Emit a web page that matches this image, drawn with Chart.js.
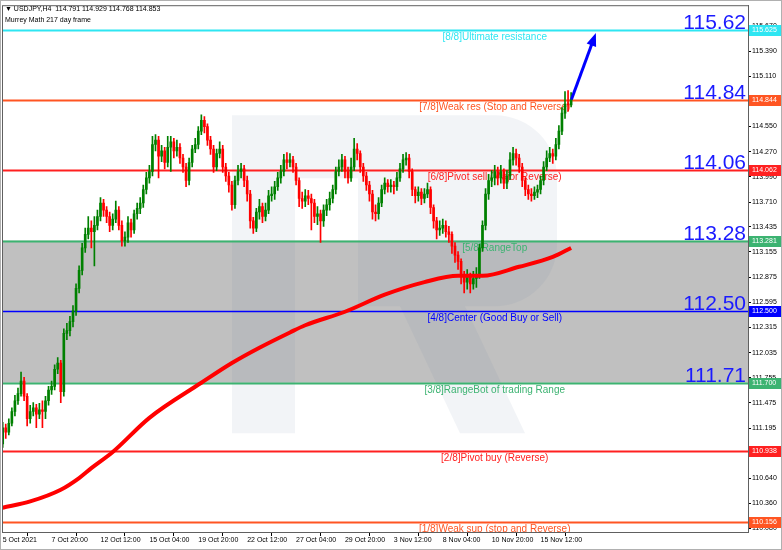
<!DOCTYPE html>
<html>
<head>
<meta charset="utf-8">
<script src="https://cdn.jsdelivr.net/npm/chart.js@4.4.1/dist/chart.umd.min.js"></script>
<style>
  html, body { margin: 0; padding: 0; background: #fff; }
  canvas { display: block; }
</style>
</head>
<body>
<canvas id="mycanvas" width="782" height="550"></canvas>
<script>
// USDJPY H4 bars (one value per candle)
var closes = [
  111.20,111.15,111.25,111.38,111.50,111.58,111.72,111.55,111.30,111.38,
  111.42,111.35,111.40,111.38,111.50,111.62,111.66,111.85,111.92,111.60,
  112.25,112.28,112.38,112.50,112.75,112.95,113.20,113.35,113.42,113.38,
  113.45,113.55,113.70,113.62,113.55,113.45,113.52,113.62,113.45,113.28,
  113.32,113.48,113.40,113.58,113.64,113.70,113.85,113.98,114.05,114.35,
  114.40,114.22,114.28,114.15,114.32,114.38,114.28,114.32,114.20,114.10,
  113.95,114.15,114.30,114.35,114.50,114.62,114.55,114.40,114.30,114.10,
  114.25,114.30,114.10,114.00,113.90,113.68,113.95,114.05,114.08,113.95,
  113.80,113.50,113.42,113.60,113.66,113.55,113.62,113.78,113.80,113.88,
  113.98,114.05,114.18,114.15,114.18,114.10,113.95,113.75,113.72,113.78,
  113.75,113.70,113.55,113.58,113.50,113.62,113.68,113.75,113.85,114.05,
  114.10,114.18,114.05,113.98,114.10,114.30,114.25,114.10,114.00,113.90,
  113.80,113.60,113.58,113.70,113.85,113.92,113.88,113.90,113.88,113.98,
  114.08,114.18,114.20,114.05,113.85,113.78,113.82,113.75,113.80,113.85,
  113.65,113.50,113.40,113.42,113.45,113.38,113.35,113.22,113.12,113.05,
  112.90,112.82,112.88,112.80,112.86,112.90,113.20,113.45,113.80,113.95,
  113.98,114.05,113.98,114.05,113.92,114.00,114.18,114.25,114.20,114.10,
  113.95,113.85,113.80,113.78,113.82,113.85,113.95,114.10,114.20,114.25,
  114.22,114.35,114.50,114.70,114.80,114.791,114.853
];
var highs = [
  111.26,111.24,111.30,111.42,111.56,111.64,111.82,111.76,111.58,111.45,
  111.48,111.46,111.47,111.50,111.55,111.66,111.72,111.90,111.98,111.95,
  112.30,112.36,112.44,112.56,112.80,113.00,113.25,113.42,113.55,113.50,
  113.55,113.62,113.76,113.74,113.66,113.60,113.58,113.72,113.66,113.50,
  113.38,113.55,113.52,113.62,113.70,113.76,113.90,114.04,114.12,114.44,
  114.46,114.44,114.34,114.32,114.44,114.44,114.42,114.40,114.36,114.24,
  114.14,114.20,114.34,114.42,114.55,114.68,114.66,114.58,114.44,114.34,
  114.30,114.38,114.34,114.14,114.04,113.94,114.00,114.12,114.14,114.12,
  114.00,113.84,113.54,113.64,113.74,113.70,113.70,113.84,113.88,113.94,
  114.04,114.12,114.24,114.26,114.25,114.22,114.14,113.98,113.82,113.85,
  113.84,113.80,113.74,113.66,113.62,113.68,113.74,113.82,113.90,114.10,
  114.18,114.24,114.22,114.10,114.20,114.42,114.36,114.28,114.14,114.04,
  113.94,113.84,113.68,113.76,113.90,113.98,113.96,113.96,113.94,114.04,
  114.14,114.24,114.26,114.24,114.08,113.88,113.88,113.86,113.86,113.92,
  113.88,113.68,113.54,113.50,113.52,113.50,113.44,113.38,113.26,113.16,
  113.08,112.94,112.96,112.92,112.94,112.98,113.24,113.50,113.86,114.02,
  114.06,114.12,114.10,114.12,114.08,114.06,114.26,114.32,114.30,114.24,
  114.14,113.98,113.90,113.86,113.88,113.90,114.00,114.16,114.28,114.32,
  114.30,114.42,114.56,114.76,114.94,114.95,114.929
];
var lows = [
  110.98,111.08,111.12,111.22,111.33,111.46,111.55,111.50,111.22,111.25,
  111.33,111.20,111.30,111.20,111.30,111.45,111.57,111.62,111.80,111.48,
  111.55,112.18,112.22,112.32,112.45,112.70,112.90,113.15,113.30,113.20,
  113.00,113.40,113.50,113.55,113.48,113.38,113.40,113.48,113.40,113.22,
  113.22,113.26,113.32,113.36,113.52,113.58,113.65,113.80,113.92,114.00,
  114.28,113.98,114.16,114.08,114.10,114.05,114.20,114.22,114.14,114.04,
  113.88,113.90,114.10,114.26,114.30,114.46,114.48,114.34,114.24,114.04,
  114.06,114.20,114.04,113.94,113.82,113.62,113.64,113.90,113.98,113.88,
  113.72,113.42,113.36,113.38,113.52,113.48,113.50,113.58,113.72,113.74,
  113.84,113.92,114.00,114.08,114.10,114.04,113.90,113.66,113.64,113.66,
  113.68,113.40,113.48,113.46,113.26,113.44,113.56,113.62,113.70,113.80,
  114.00,114.05,113.98,113.92,113.94,114.06,114.18,114.04,113.94,113.84,
  113.72,113.52,113.50,113.52,113.66,113.80,113.82,113.82,113.80,113.84,
  113.94,114.04,114.12,113.98,113.78,113.70,113.72,113.68,113.70,113.76,
  113.58,113.42,113.30,113.34,113.36,113.32,113.26,113.14,113.04,112.96,
  112.80,112.70,112.74,112.70,112.74,112.76,112.86,113.16,113.40,113.74,
  113.88,113.90,113.90,113.92,113.86,113.86,113.96,114.12,114.12,114.04,
  113.88,113.78,113.74,113.72,113.74,113.76,113.80,113.90,114.06,114.16,
  114.14,114.18,114.30,114.46,114.64,114.72,114.768
];
var firstOpen = 111.02;
// H4 forex bars open where the previous one closed
var opens = closes.map(function(c, i){ return i === 0 ? firstOpen : closes[i - 1]; });

// 217 period moving average (red thick line), bar index / value
var maIdx = [0, 9, 19, 25, 29, 36, 48, 65, 75, 84, 94, 99, 112, 125, 138, 149, 157, 169, 180, 186];
var maVal = [110.31,110.38,110.51,110.64,110.75,110.93,111.31,111.70,111.92,112.09,112.26,112.34,112.49,112.68,112.82,112.89,112.89,112.99,113.10,113.20];

// time axis labels, one every 16 bars
var xTickLabels = ["5 Oct 2021","7 Oct 20:00","12 Oct 12:00","15 Oct 04:00","19 Oct 20:00","22 Oct 12:00",
  "27 Oct 04:00","29 Oct 20:00","3 Nov 12:00","8 Nov 04:00","10 Nov 20:00","15 Nov 12:00"];
var yTicks = [115.67,115.39,115.11,114.83,114.55,114.27,113.99,113.71,113.435,113.155,112.875,
  112.595,112.315,112.035,111.755,111.475,111.195,110.915,110.64,110.36,110.08];

// Murrey Math levels
var levelVals = [115.625,114.844,114.062,113.281,112.500,111.700,110.938,110.156];
var levelNames = ["[8/8]Ultimate resistance","[7/8]Weak res (Stop and Reverse)","[6/8]Pivot sell (Major Reverse)",
  "[5/8]RangeTop","[4/8]Center (Good Buy or Sell)","[3/8]RangeBot of trading Range",
  "[2/8]Pivot buy (Reverse)","[1/8]Weak sup (stop and Reverse)"];
var levelBig = ["115.62","114.84","114.06","113.28","112.50","111.71","",""];
var levelColors = ["#2ee6f2","#ff5522","#ff2020","#3cb371","#0000ff","#3cb371","#ff2020","#ff5522"];

// forecast arrow (bar index / price)
var arrowX = [186.1, 194.1];
var arrowY = [114.85, 115.59];

var green = "#008000", red = "#ff0000";
var smallFont = "7px 'Liberation Sans', Arial, sans-serif";

function drawWatermark(ctx, a) {
  var L = a.left, T = a.top;
  ctx.fillStyle = "rgba(110,130,160,0.085)";
  ctx.beginPath();
  ctx.rect(L + 230, T + 110, 63, 318);
  ctx.roundRect(L + 293, T + 110, 262, 63, [0, 62, 0, 0]);
  ctx.roundRect(L + 356, T + 173, 199, 128, [0, 0, 62, 0]);
  ctx.moveTo(L + 398, T + 301);
  ctx.lineTo(L + 463, T + 301);
  ctx.lineTo(L + 523, T + 428);
  ctx.lineTo(L + 458, T + 428);
  ctx.closePath();
  ctx.fill();
}

var murreyPlugin = {
  id: "murrey",
  beforeDatasetsDraw: function(chart) {
    var ctx = chart.ctx, a = chart.chartArea, y = chart.scales.y, x = chart.scales.x;
    ctx.save();
    ctx.beginPath();
    ctx.rect(a.left, a.top, a.right - a.left, a.bottom - a.top);
    ctx.clip();
    var yTop = y.getPixelForValue(levelVals[3]), yBot = y.getPixelForValue(levelVals[5]);
    ctx.fillStyle = "#c0c0c0";
    ctx.fillRect(a.left, yTop, a.right - a.left, yBot - yTop);
    drawWatermark(ctx, a);
    var labelX = x.getPixelForValue(161);
    ctx.font = "10px 'Liberation Sans', Arial, sans-serif";
    ctx.textAlign = "center";
    ctx.textBaseline = "top";
    levelVals.forEach(function(v, k) {
      var py = Math.round(y.getPixelForValue(v)) + 0.5;
      ctx.strokeStyle = levelColors[k];
      ctx.lineWidth = k === 4 ? 1.5 : 2;
      ctx.beginPath();
      ctx.moveTo(a.left, py);
      ctx.lineTo(a.right, py);
      ctx.stroke();
      ctx.fillStyle = levelColors[k];
      ctx.fillText(levelNames[k], labelX, py + 1.5);
    });
    ctx.restore();
  },
  afterDatasetsDraw: function(chart) {
    var ctx = chart.ctx, x = chart.scales.x, y = chart.scales.y;
    var x0 = x.getPixelForValue(arrowX[0]), y0 = y.getPixelForValue(arrowY[0]);
    var x1 = x.getPixelForValue(arrowX[1]), y1 = y.getPixelForValue(arrowY[1]);
    var ang = Math.atan2(y1 - y0, x1 - x0);
    ctx.save();
    ctx.strokeStyle = "#0000ff";
    ctx.fillStyle = "#0000ff";
    ctx.lineWidth = 3;
    ctx.beginPath();
    ctx.moveTo(x0, y0);
    ctx.lineTo(x1 - 9 * Math.cos(ang), y1 - 9 * Math.sin(ang));
    ctx.stroke();
    ctx.beginPath();
    ctx.moveTo(x1, y1);
    ctx.lineTo(x1 - 13 * Math.cos(ang) + 5 * Math.sin(ang), y1 - 13 * Math.sin(ang) - 5 * Math.cos(ang));
    ctx.lineTo(x1 - 13 * Math.cos(ang) - 5 * Math.sin(ang), y1 - 13 * Math.sin(ang) + 5 * Math.cos(ang));
    ctx.closePath();
    ctx.fill();
    ctx.restore();
  },
  afterDraw: function(chart) {
    var ctx = chart.ctx, a = chart.chartArea, y = chart.scales.y;
    ctx.save();
    // frame
    ctx.strokeStyle = "#606060";
    ctx.lineWidth = 1;
    ctx.strokeRect(a.left + 0.5, a.top + 0.5, a.right - a.left, a.bottom - a.top);
    ctx.strokeStyle = "#b0b0b0";
    ctx.strokeRect(0.5, 0.5, chart.width - 1, chart.height - 1);
    // big level numbers
    ctx.font = "21px 'Liberation Sans', Arial, sans-serif";
    ctx.textAlign = "right";
    ctx.textBaseline = "alphabetic";
    ctx.fillStyle = "#1a1aff";
    levelVals.forEach(function(v, k) {
      if (levelBig[k]) ctx.fillText(levelBig[k], a.right - 2, Math.round(y.getPixelForValue(v)) - 1);
    });
    // price boxes on the axis
    ctx.font = smallFont;
    ctx.textAlign = "left";
    ctx.textBaseline = "middle";
    levelVals.forEach(function(v, k) {
      var py = Math.round(y.getPixelForValue(v));
      ctx.fillStyle = levelColors[k];
      ctx.fillRect(a.right + 1, py - 5, 32, 11);
      ctx.fillStyle = "#ffffff";
      ctx.fillText(v.toFixed(3), a.right + 4, py + 0.5);
    });
    // header
    ctx.fillStyle = "#000";
    ctx.textBaseline = "middle";
    ctx.fillText("\u25BC USDJPY,H4  114.791 114.929 114.768 114.853", a.left + 3, 9);
    ctx.fillText("Murrey Math 217 day frame", a.left + 3, 20);
    ctx.restore();
  }
};

var n = closes.length;
var wickData = [], bodyData = [];
for (var i = 0; i < n; i++) {
  wickData.push({ x: i, y: [lows[i], highs[i]] });
  bodyData.push({ x: i, y: [opens[i], closes[i]] });
}
var maData = maIdx.map(function(ix, k){ return { x: ix, y: maVal[k] }; });

function candleColor(c) {
  var i = c.dataIndex;
  return closes[i] >= opens[i] ? green : red;
}

var ctx = document.getElementById("mycanvas");
var chart = new Chart(ctx, {
  type: "bar",
  data: {
    datasets: [
      { label: "wick", data: wickData, backgroundColor: candleColor, barThickness: 1, grouped: false, order: 3 },
      { label: "body", data: bodyData, backgroundColor: candleColor, barThickness: 2, minBarLength: 1, grouped: false, order: 2 },
      { type: "line", label: "MA", data: maData, borderColor: "#ff0000", borderWidth: 4, pointRadius: 0,
        cubicInterpolationMode: "monotone", fill: false, order: 1 }
    ]
  },
  options: {
    responsive: false,
    animation: false,
    devicePixelRatio: 1,
    layout: { padding: { left: 2, top: 1, right: 0, bottom: 0 } },
    plugins: { legend: { display: false }, tooltip: { enabled: false } },
    scales: {
      x: {
        type: "linear",
        min: -0.23,
        max: 243.88,
        offset: false,
        afterBuildTicks: function(s) {
          s.ticks = xTickLabels.map(function(_, k){ return { value: k * 16 }; });
        },
        afterFit: function(s) { s.height = 18; },
        ticks: {
          autoSkip: false, maxRotation: 0, align: "start", padding: 0,
          color: "#000", font: { family: "'Liberation Sans', Arial, sans-serif", size: 7 },
          callback: function(v) { return xTickLabels[Math.round(v / 16)]; }
        },
        grid: { drawOnChartArea: false, drawTicks: true, tickLength: 4, color: "#000" },
        border: { display: true, color: "#606060" }
      },
      y: {
        position: "right",
        min: 110.04,
        max: 115.90,
        afterBuildTicks: function(s) {
          s.ticks = yTicks.map(function(v){ return { value: v }; });
        },
        afterFit: function(s) { s.width = 34; },
        ticks: {
          padding: 1, color: "#000", font: { family: "'Liberation Sans', Arial, sans-serif", size: 7 },
          callback: function(v) { return v.toFixed(3); }
        },
        grid: { drawOnChartArea: false, drawTicks: true, tickLength: 3, color: "#000" },
        border: { display: true, color: "#606060" }
      }
    }
  },
  plugins: [murreyPlugin]
});
</script>
</body>
</html>
